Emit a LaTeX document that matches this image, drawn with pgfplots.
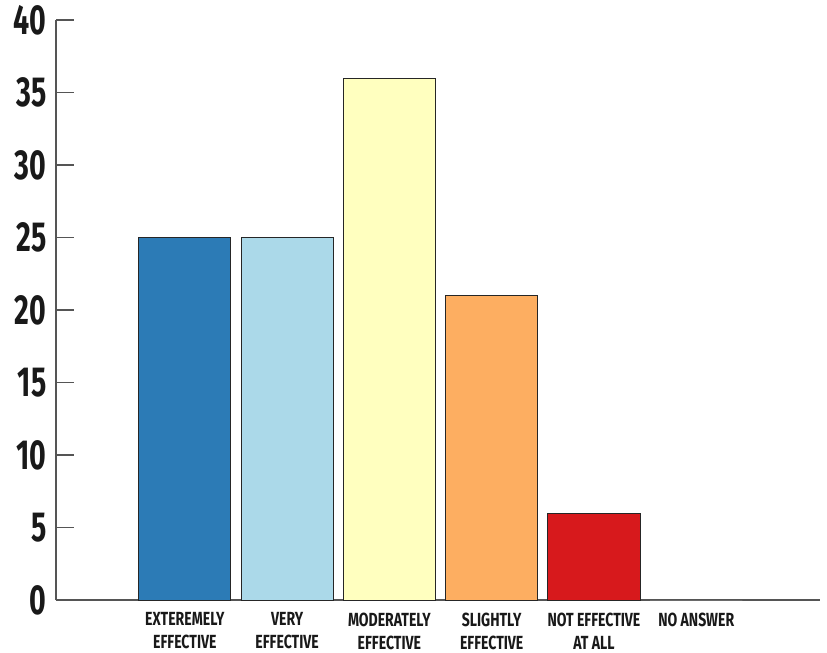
\documentclass[border=0pt]{standalone}
\usepackage{pgfplots}
\pgfplotsset{compat=1.18}
\usepackage{fontspec}
\setmainfont{Fira Sans}
\definecolor{c1}{HTML}{2C7BB6}
\definecolor{c2}{HTML}{ABD9E9}
\definecolor{c3}{HTML}{FFFFBF}
\definecolor{c4}{HTML}{FDAE61}
\definecolor{c5}{HTML}{D7191C}
\definecolor{axgray}{HTML}{555555}
\newcommand{\yl}[1]{\scalebox{0.68}[1]{\fontsize{42}{42}\selectfont\bfseries #1}}
\newcommand{\xl}[1]{\scalebox{0.74}[1]{\bfseries #1}}
\begin{document}
\begin{tikzpicture}
\begin{axis}[
  scale only axis, width=764pt, height=580pt,
  ybar, bar width=0.9, bar shift=0pt,
  xmin=-1.26, xmax=6.21, ymin=0, ymax=40,
  axis x line=bottom, axis y line=left,
  axis line style={-, draw=axgray, line width=1.3pt},
  ytick={0,5,...,40},
  yticklabels={\yl{0},\yl{5},\yl{10},\yl{15},\yl{20},\yl{25},\yl{30},\yl{35},\yl{40}},
  major tick length=18pt,
  ytick style={draw=axgray, line width=1.3pt},
  tick align=inside,
  yticklabel style={xshift=-6pt, text=black!90},
  xtick={0,1,2,3,4,5},
  xtick style={draw=none},
  xticklabels={{\xl{EXTEREMELY}\\\xl{EFFECTIVE}},{\xl{VERY}\\\xl{EFFECTIVE}},{\xl{MODERATELY}\\\xl{EFFECTIVE}},{\xl{SLIGHTLY}\\\xl{EFFECTIVE}},{\xl{NOT EFFECTIVE}\\\xl{AT ALL}},{\xl{NO ANSWER}}},
  xticklabel style={align=center, anchor=north, yshift=-9pt, text=black!90, font=\fontsize{19}{23}\selectfont},
  every axis plot/.append style={draw=black!85, line width=0.9pt},
  clip=false,
]
\addplot[fill=c1] coordinates {(0,25)};
\addplot[fill=c2] coordinates {(1,25)};
\addplot[fill=c3] coordinates {(2,36)};
\addplot[fill=c4] coordinates {(3,21)};
\addplot[fill=c5] coordinates {(4,6)};
\addplot[fill=white, draw=none] coordinates {(5,0)};
\end{axis}
\pgfresetboundingbox
\path[use as bounding box] (-56pt,-53pt) rectangle (771pt,600pt);
\end{tikzpicture}
\end{document}
